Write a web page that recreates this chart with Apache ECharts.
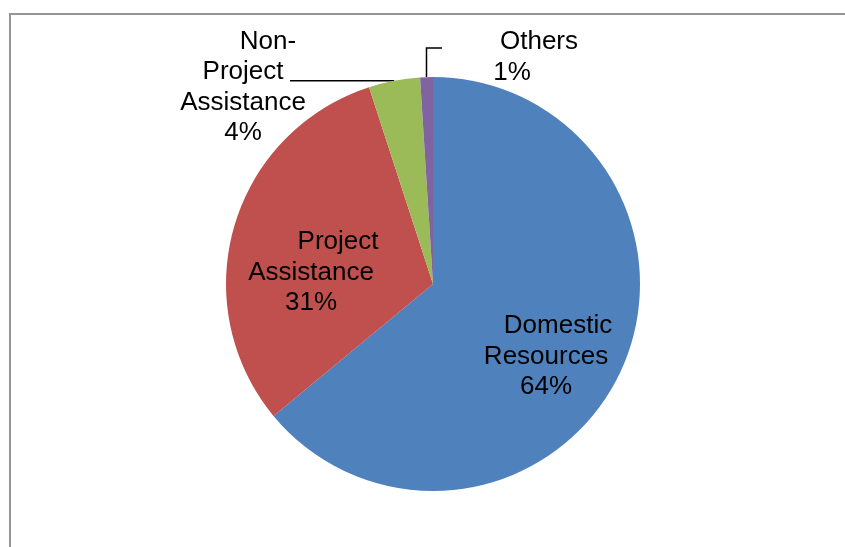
<!DOCTYPE html>
<html>
<head>
<meta charset="utf-8">
<script src="https://cdn.jsdelivr.net/npm/echarts@6/dist/echarts.min.js"></script>
<style>
  html, body { margin: 0; padding: 0; background: #ffffff; }
  #chart { width: 845px; height: 547px; }
</style>
</head>
<body>
<div id="chart"></div>
<script>
// Funding sources and their shares (percent)
const sources = ['Domestic Resources', 'Project Assistance', 'Non-Project Assistance', 'Others'];
const sourceLabelLines = [['Domestic', 'Resources'], ['Project', 'Assistance'], ['Non-', 'Project', 'Assistance'], ['Others']];
const shares = [64, 31, 4, 1];

const sliceColors = ['#4F81BD', '#C0504D', '#9BBB59', '#8064A2'];

// Where each label block sits, and how its leader line runs
const labelSpots = [
  { x: 546, y: 356.5, shift: 12 },
  { x: 311, y: 272.5, shift: 27 },
  { x: 243, y: 87.5, shift: 25, line: 'left', lineEnd: 290 },
  { x: 512, y: 57.5, shift: 27, line: 'up', lineTop: 48, lineEnd: 442 }
];

const FONT = "'Liberation Sans', Arial, sans-serif";
const FONT_SIZE = 26;
const LINE_H = 30.5;

const baseText = { fontFamily: FONT, fontSize: FONT_SIZE, lineHeight: LINE_H, color: '#000000' };
const rich = { rest: Object.assign({}, baseText) };
labelSpots.forEach((s, i) => {
  rich['first' + i] = Object.assign({ padding: [0, 0, 0, s.shift * 2] }, baseText);
});

const chart = echarts.init(document.getElementById('chart'), null, { renderer: 'canvas' });

chart.setOption({
  animation: false,
  backgroundColor: '#ffffff',
  graphic: [{
    type: 'rect',
    silent: true,
    shape: { x: 10, y: 14, width: 900, height: 600 },
    style: { fill: 'none', stroke: '#969696', lineWidth: 2 }
  }],
  series: [{
    type: 'pie',
    center: [433, 284],
    radius: 207,
    startAngle: 90,
    clockwise: true,
    avoidLabelOverlap: false,
    minShowLabelAngle: 0,
    emphasis: { disabled: true },
    itemStyle: { borderWidth: 0 },
    data: sources.map((name, i) => ({
      name: name,
      value: shares[i],
      itemStyle: { color: sliceColors[i] },
      label: { position: labelSpots[i].line ? 'outside' : 'inside' },
      labelLine: { show: !!labelSpots[i].line }
    })),
    label: {
      show: true,
      fontFamily: FONT,
      fontSize: FONT_SIZE,
      lineHeight: LINE_H,
      color: '#000000',
      align: 'center',
      formatter: function (p) {
        const lines = sourceLabelLines[p.dataIndex].concat([Math.round(p.percent) + '%']);
        return lines.map((t, k) => (k === 0 ? '{first' + p.dataIndex + '|' : '{rest|') + t + '}').join('\n');
      },
      rich: rich
    },
    labelLine: {
      show: true,
      length: 10,
      length2: 10,
      lineStyle: { color: '#000000', width: 1.5 }
    },
    labelLayout: function (params) {
      const spot = labelSpots[params.dataIndex];
      const out = { x: spot.x, y: spot.y, align: 'center', verticalAlign: 'middle' };
      const pts = params.labelLinePoints;
      if (spot.line && pts && pts.length) {
        const p0 = pts[0];
        if (spot.line === 'left') {
          out.labelLinePoints = [p0, [spot.lineEnd, p0[1]], [spot.lineEnd, p0[1]]];
        } else {
          out.labelLinePoints = [p0, [p0[0], spot.lineTop], [spot.lineEnd, spot.lineTop]];
        }
      }
      return out;
    }
  }]
});
</script>
</body>
</html>
